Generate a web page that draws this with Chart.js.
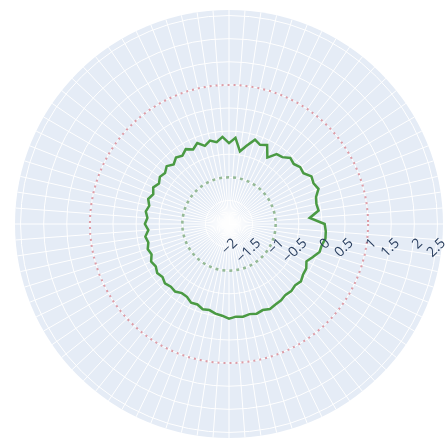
<!DOCTYPE html>
<html>
<head>
<meta charset="utf-8">
<script src="https://cdn.jsdelivr.net/npm/chart.js@4/dist/chart.umd.min.js"></script>
<style>
  html, body { margin: 0; padding: 0; background: #ffffff; }
  #wrap { width: 448px; height: 446px; position: relative; }
</style>
</head>
<body>
<div id="wrap"><canvas id="polar"></canvas></div>
<script>
// Radius of the measured trace, one value per angular step, clockwise from 0°
const traceR = [
   0.06,  0.09,  0.10,  0.05,  0.04, -0.06, -0.15, -0.08, -0.07, -0.02,
  -0.06, -0.03, -0.05, -0.01,  0.00,  0.03, -0.01,  0.02, -0.01,  0.02,
   0.00,  0.04,
  -0.02, -0.05, -0.10, -0.08, -0.14, -0.12, -0.19, -0.20, -0.14, -0.16,
  -0.12, -0.17, -0.13, -0.18, -0.14, -0.21, -0.17, -0.22, -0.18, -0.26,
  -0.19, -0.24, -0.19, -0.24, -0.18, -0.25, -0.19, -0.26, -0.20, -0.24,
  -0.17, -0.25, -0.17, -0.22, -0.14, -0.22, -0.13, -0.24, -0.16, -0.22,
  -0.12,
  -0.26, -0.14, -0.42, -0.27, -0.10, -0.17, -0.11, -0.35, -0.18, -0.16,
  -0.06, -0.10, -0.04, -0.06,  0.05,  0.02,  0.07, -0.04, -0.07, -0.05,
  -0.26
];

// Angular categories (degrees), one per sample
const thetaLabels = traceR.map((_, i) => (i * 360 / traceR.length).toFixed(1) + '°');

// Reference rings
const upperBound = 1;
const lowerBound = -1;

// Radial axis
const radialTicks = [-2, -1.5, -1, -0.5, 0, 0.5, 1, 1.5, 2, 2.5];
const radialMin = -2.01;
const radialMax = 2.62;

function tickText(v) {
  return String(v).replace('-', '\u2212');
}

// Radial tick labels, tilted, along the 0° spoke
const radialLabels = {
  id: 'radialLabels',
  afterDatasetsDraw(chart) {
    const s = chart.scales.r;
    const ctx = chart.ctx;
    ctx.save();
    ctx.font = '14px "Open Sans", sans-serif';
    ctx.fillStyle = '#2a3f5f';
    ctx.textAlign = 'right';
    ctx.textBaseline = 'middle';
    radialTicks.forEach(v => {
      const d = s.getDistanceFromCenterForValue(v);
      ctx.save();
      ctx.translate(s.xCenter + d + 6, s.yCenter + 17);
      ctx.rotate(-Math.PI / 4);
      ctx.fillText(tickText(v), 0, 0);
      ctx.restore();
    });
    ctx.restore();
  }
};

new Chart(document.getElementById('polar'), {
  type: 'radar',
  data: {
    labels: thetaLabels,
    datasets: [
      {
        label: 'upper',
        data: thetaLabels.map(() => upperBound),
        borderColor: 'rgba(214,125,138,0.75)',
        borderWidth: 2,
        borderDash: [2, 4],
        pointRadius: 0,
        fill: false
      },
      {
        label: 'lower',
        data: thetaLabels.map(() => lowerBound),
        borderColor: 'rgba(125,170,125,0.8)',
        borderWidth: 2.5,
        borderDash: [3, 4],
        pointRadius: 0,
        fill: false
      },
      {
        label: 'trace',
        data: traceR,
        borderColor: '#4a9a43',
        borderWidth: 2.5,
        pointRadius: 0,
        fill: false
      }
    ]
  },
  options: {
    responsive: true,
    maintainAspectRatio: false,
    animation: false,
    layout: { padding: { left: 15, right: 5, top: 10, bottom: 8 } },
    plugins: { legend: { display: false }, tooltip: { enabled: false } },
    scales: {
      r: {
        min: radialMin,
        max: radialMax,
        startAngle: 90,
        backgroundColor: '#e5ecf6',
        grid: { circular: true, color: '#ffffff', lineWidth: 1 },
        angleLines: { color: '#ffffff', lineWidth: 1 },
        pointLabels: { display: false },
        ticks: { display: false },
        afterBuildTicks(scale) {
          scale.ticks = radialTicks.map(v => ({ value: v }));
        }
      }
    }
  },
  plugins: [radialLabels]
});
</script>
</body>
</html>
